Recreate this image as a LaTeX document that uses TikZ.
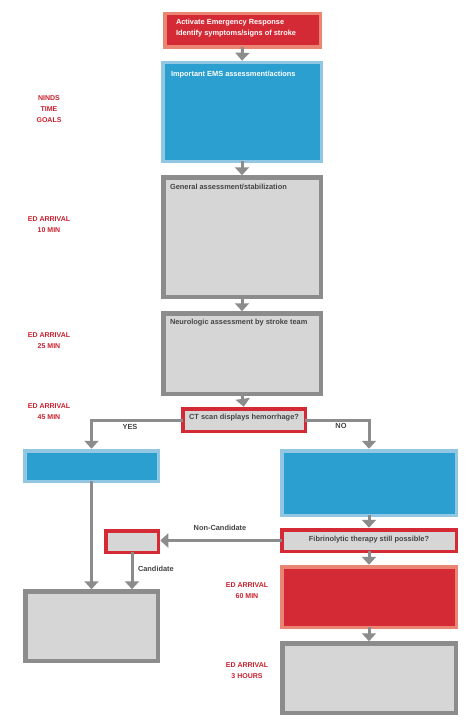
\documentclass[tikz,border=0pt]{standalone}
\usepackage{fontspec}
\setmainfont{Liberation Sans}
\usetikzlibrary{arrows.meta}
\definecolor{cred}{HTML}{D42A35}
\definecolor{csalmon}{HTML}{EA8573}
\definecolor{cblue}{HTML}{2BA0D0}
\definecolor{clblue}{HTML}{92C7E4}
\definecolor{cgray}{HTML}{8C8C8C}
\definecolor{clgray}{HTML}{D6D6D6}
\definecolor{ctext}{HTML}{444444}
\definecolor{clabel}{HTML}{C8202E}
\newcommand\mkbox[7]{\node[#1, minimum width={(#4-#2-#7)*1pt}, minimum height={(#5-#3-#7)*1pt}] (#6) at ({(#2+#4)/2},{(#3+#5)/2}) {};}
\begin{document}
\begin{tikzpicture}[x=1pt,y=-1pt,
  every node/.style={inner sep=0pt, outer sep=0pt, font=\fontsize{7.4}{11}\selectfont\bfseries},
  redbox/.style={draw=csalmon, fill=cred, line width=3.5pt},
  bluebox/.style={draw=clblue, fill=cblue, line width=3.5pt},
  graybox/.style={draw=cgray, fill=clgray, line width=4.5pt},
  qbox/.style={draw=cred, fill=clgray, line width=3.5pt},
  wtext/.style={text=white, anchor=west, align=left},
  dtext/.style={text=ctext, anchor=west, align=left},
  ctext/.style={text=ctext, align=center},
  goal/.style={text=clabel, align=center, font=\fontsize{7}{11}\selectfont\bfseries},
  arr/.style={draw=cgray, line width=3pt, -{Triangle[width=14pt,length=8pt]}, shorten >=2pt}
]
\useasboundingbox[fill=white] (0,0) rectangle (474,725);

% boxes
\mkbox{redbox}{163}{12}{322}{49}{act}{3.5}
\mkbox{bluebox}{161}{61}{323}{163}{ems}{3.5}
\mkbox{graybox}{161}{175}{323}{299}{gen}{4.5}
\mkbox{graybox}{161}{311}{323}{396}{neuro}{4.5}
\mkbox{qbox}{181}{407}{307}{433}{ct}{3.5}
\mkbox{bluebox}{23}{449}{160}{483}{lblue}{3.5}
\mkbox{bluebox}{280}{449}{458}{517}{rblue}{3.5}
\mkbox{qbox}{104}{529}{160}{554}{small}{3.5}
\mkbox{qbox}{280}{528}{458}{553}{fib}{3.5}
\mkbox{redbox}{280}{565}{458}{629}{red60}{3.5}
\mkbox{graybox}{280}{641}{458}{715}{gray3h}{4.5}
\mkbox{graybox}{23}{589}{160}{663}{lgray}{4.5}

% box texts
\node[wtext] (tact) at (176,28.5) {Activate Emergency Response\\Identify symptoms/signs of stroke};
\node[wtext] (tems) at (171,75) {Important EMS assessment/actions};
\node[dtext] (tgen) at (170,187) {General assessment/stabilization};
\node[dtext] (tneuro) at (170,323) {Neurologic assessment by stroke team};
\node[ctext] (tct) at (244,418) {CT scan displays hemorrhage?};
\node[ctext] (tfib) at (369,539.5) {Fibrinolytic therapy still possible?};

% connectors
\draw[arr] (act.south) -- (ems.north);
\draw[arr] (ems.south) -- (gen.north);
\draw[arr] (gen.south) -- (neuro.north);
\draw[arr] (neuro.south) -- (ct.north);
\draw[arr] (ct.west) -| (lblue.north);
\draw[arr] (ct.east) -| (rblue.north);
\draw[arr] (lblue.south) -- (lblue.south |- lgray.north);
\draw[arr] (small.south) -- (small.south |- lgray.north);
\draw[arr] (rblue.south) -- (fib.north);
\draw[arr] (fib.west) -- (fib.west -| small.east);
\draw[arr] (fib.south) -- (red60.north);
\draw[arr] (red60.south) -- (gray3h.north);

% connector labels
\node[ctext] (yes) at (130,427) {YES};
\node[ctext] (no) at (341,426) {NO};
\node[ctext] (noncand) at (220,528) {Non-Candidate};
\node[dtext] (cand) at (138,569) {Candidate};

% goal labels
\node[goal] (g0) at (49,109) {NINDS\\TIME\\GOALS};
\node[goal] (g1) at (49,224.5) {ED ARRIVAL\\10 MIN};
\node[goal] (g2) at (49,341) {ED ARRIVAL\\25 MIN};
\node[goal] (g3) at (49,412) {ED ARRIVAL\\45 MIN};
\node[goal] (g4) at (247,590.5) {ED ARRIVAL\\60 MIN};
\node[goal] (g5) at (247,671) {ED ARRIVAL\\3 HOURS};
\end{tikzpicture}
\end{document}
